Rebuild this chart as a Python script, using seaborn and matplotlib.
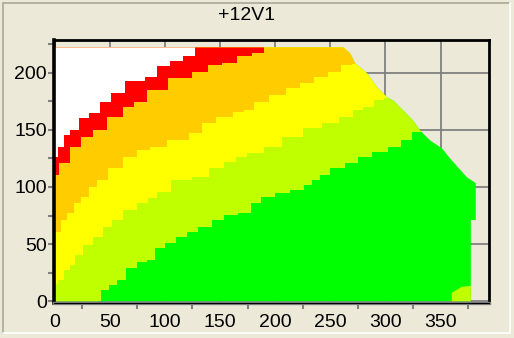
import matplotlib
matplotlib.use("Agg")
import matplotlib.pyplot as plt
from matplotlib.patches import Polygon
from matplotlib.lines import Line2D
from matplotlib.ticker import MultipleLocator
import seaborn as sns

# Operating envelope of the +12V1 rail
outer_x = [0, 377.5, 377.5, 382, 382, 373.9, 365.7, 358.5, 351.3, 340.4, 331.4,
           325, 316, 307, 301.6, 292.5, 283.5, 272.6, 268.1, 261.8, 0]
outer_y = [0, 0, 71, 71, 103.3, 108.5, 117.3, 125.1, 133.8, 140.8, 149.5,
           158.2, 167, 175.7, 178.3, 187, 199.2, 208, 216.7, 222, 222]

# Zone boundaries (region above each curve takes the next colour)
green_top_x = [0, 38, 40.2, 44.8, 53.8, 60.1, 69.2, 80, 87.3, 94.5, 105.3, 114.4,
               125.3, 135.2, 150.5, 156.9, 175.9, 179.5, 195.8, 204.8, 222.9,
               229.2, 238.2, 243.6, 256.3, 269.9, 279.8, 295.2, 308.8, 319.6,
               329.6, 340]
green_top_y = [-5, -5, 0.4, 10, 14.4, 18.7, 29.2, 34.4, 36.2, 46.6, 51, 56.2,
               60.6, 65, 71, 75.4, 77.2, 85.9, 91.1, 94.6, 97.2,
               101.6, 105.9, 110.3, 116.4, 120.7, 126, 130.3, 134.7, 140.8,
               147.8, 153]

yellow_bottom_x = [0, 5.9, 10.4, 16.7, 21.2, 30.3, 39.3, 49.3, 55.6, 69.2, 80,
                   90, 96.3, 114.4, 135.2, 144.2, 162.3, 165.9, 184, 195.8,
                   216.6, 234.6, 250, 265.4, 275.3, 283.5, 295.3, 301.6, 312]
yellow_bottom_y = [15.3, 18.7, 27.5, 31.8, 40.5, 49.3, 56.2, 64.9, 71, 79.8, 85.9,
                   90.2, 95.5, 105.9, 108.5, 116.4, 121.6, 126, 129.5, 134.7,
                   143.4, 151.3, 155.6, 160.8, 166.9, 169.6, 175.7, 177.4, 181]

orange_bottom_x = [0, 3.2, 7.7, 14.9, 21.2, 26.7, 35.7, 42, 55.6, 69.2, 81, 91.8,
                   111.7, 132.5, 135.2, 156.9, 165.9, 177.7, 184.9, 204.8, 215.7,
                   230.1, 241, 254.5, 265.4, 274.5, 285]
orange_bottom_y = [60.6, 60.6, 71, 77, 85.9, 91.1, 99.8, 106, 116.4, 126, 132,
                   134.7, 140.8, 146.9, 155.6, 160.8, 165.2, 167, 173.9, 180,
                   186.1, 190.5, 195.7, 200.1, 206.2, 207.9, 211]

red_bottom_x = [0, 8.6, 18.5, 30.3, 40.2, 55.6, 69.2, 75.5, 91.8, 114.4, 134.3,
                144.2, 159.6, 170.4, 188.5, 191]
red_bottom_y = [110, 120.7, 134.7, 143.4, 149.5, 160.8, 169.6, 173.9, 184.4, 194.9,
                200.1, 206.2, 208.8, 214.9, 217.5, 224]

red_top_x = [0, 6, 10.4, 16.7, 26.7, 35.7, 46.6, 55.6, 71.9, 91.8, 94.5, 114,
             118.9, 135]
red_top_y = [126, 134.7, 145, 149.5, 160, 165, 174, 181.8, 193, 195.7, 206, 210,
             214.9, 224]

# Small lower-right pocket of the second zone
pocket_x = [360.2, 360.2, 364.7, 369.2, 377.5, 377.5]
pocket_y = [0, 7.4, 10, 12.6, 13.5, 0]

zone_colors = ["#00FF00", "#C0FF00", "#FFFF00", "#FFCC00", "#FF0000", "#FFFFFF"]

x_major = [0, 50, 100, 150, 200, 250, 300, 350]
y_major = [0, 50, 100, 150, 200]
title_text = "+12V1"

bg = "#ECE9D8"
grid_gray = "#808080"

sns.set_theme(style="white", rc={"figure.facecolor": bg, "axes.facecolor": bg})
plt.rcParams["font.family"] = ["Liberation Sans", "DejaVu Sans"]

fig = plt.figure(figsize=(5.14, 3.38), dpi=100)
ax = fig.add_axes([0.1051, 0.1036, 0.8463, 0.7781])
ax.set_facecolor(bg)

envelope = Polygon(list(zip(outer_x, outer_y)), closed=True,
                   facecolor=zone_colors[0], edgecolor="none", zorder=2)
ax.add_patch(envelope)

boundaries = [
    (green_top_x, green_top_y),
    (yellow_bottom_x, yellow_bottom_y),
    (orange_bottom_x, orange_bottom_y),
    (red_bottom_x, red_bottom_y),
    (red_top_x, red_top_y),
]
for (bx, by), color in zip(boundaries, zone_colors[1:]):
    band = ax.fill_between(bx, by, 260, step="mid", color=color,
                           linewidth=0, zorder=3)
    band.set_clip_path(envelope)

ax.add_patch(Polygon(list(zip(pocket_x, pocket_y)), closed=True,
                     facecolor=zone_colors[1], edgecolor="none", zorder=4))

ax.set_xlim(-0.5, 394)
ax.set_ylim(-1.5, 228.5)

ax.set_xticks(x_major)
ax.set_yticks(y_major)
ax.xaxis.set_minor_locator(MultipleLocator(50, offset=25))
ax.yaxis.set_minor_locator(MultipleLocator(25))
ax.tick_params(axis="x", which="major", length=0, pad=8, labelsize=14,
               labelcolor="black")
ax.tick_params(axis="x", which="minor", length=4, width=1.5, color=grid_gray,
               direction="out", bottom=True)
ax.tick_params(axis="y", which="both", length=4, width=1.5, color=grid_gray,
               direction="out", left=True, pad=1)
ax.tick_params(axis="y", which="major", labelsize=14, labelcolor="black")

ax.grid(True, which="major", color=grid_gray, linewidth=1.3, linestyle="-", zorder=1)
ax.set_axisbelow(True)

for side, (col, lw) in {"left": ("black", 2.6), "top": ("black", 2.0),
                        "right": ("black", 2.0), "bottom": (grid_gray, 2.4)}.items():
    ax.spines[side].set_visible(True)
    ax.spines[side].set_color(col)
    ax.spines[side].set_linewidth(lw)
    ax.spines[side].set_zorder(6)
# thin dark edge on top of the grey bottom axis
ax.axhline(-1.5, color="black", linewidth=0.8, zorder=7, clip_on=False)

fig.text(247 / 514, 1 - 15 / 338, title_text, ha="center", va="center",
         fontsize=14, color="black")

# Panel border: darker top/left edge, light bottom/right edge
W, H = 514.0, 338.0
fig.add_artist(Line2D([3 / W, 509 / W], [1 - 3 / H, 1 - 3 / H], color="#ACA899",
                      linewidth=1.2, transform=fig.transFigure))
fig.add_artist(Line2D([3 / W, 3 / W], [1 - 3 / H, 1 - 333 / H], color="#ACA899",
                      linewidth=1.2, transform=fig.transFigure))
fig.add_artist(Line2D([3 / W, 510 / W], [1 - 333 / H, 1 - 333 / H], color="white",
                      linewidth=1.2, transform=fig.transFigure))
fig.add_artist(Line2D([510 / W, 510 / W], [1 - 3 / H, 1 - 333 / H], color="white",
                      linewidth=1.2, transform=fig.transFigure))

fig.savefig("out.png", dpi=100, facecolor=bg)
